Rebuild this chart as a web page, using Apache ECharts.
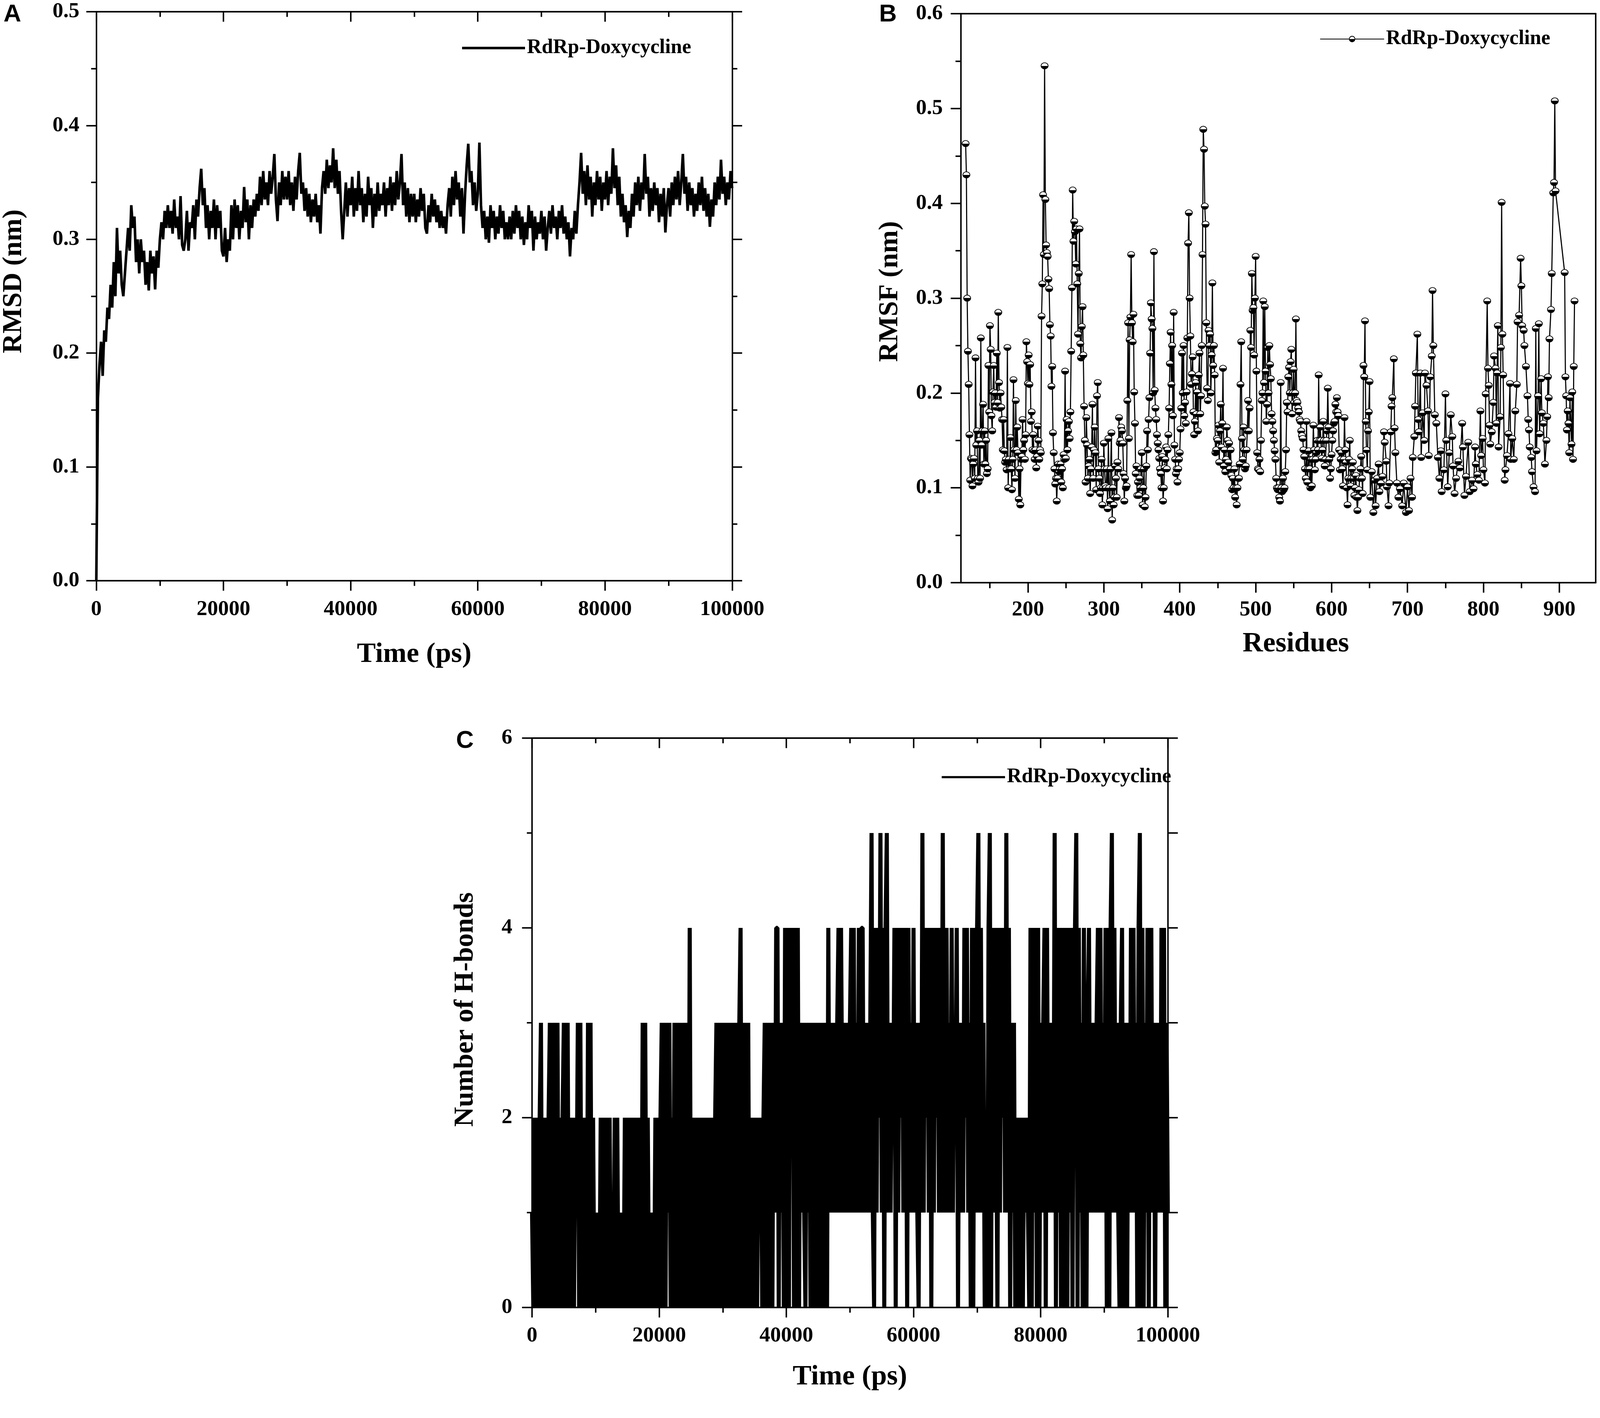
<!DOCTYPE html>
<html>
<head>
<meta charset="utf-8">
<title>RdRp-Doxycycline MD analysis</title>
<script src="https://cdn.jsdelivr.net/npm/echarts/dist/echarts.min.js"></script>
<style>
html, body { margin: 0; padding: 0; background: #fff; overflow: hidden; }
#chart { width: 100vw; height: 100vh; }
</style>
</head>
<body>
<div id="chart"></div>
<script>
var legendLabel = 'RdRp-Doxycycline';

// (A) RMSD in nm, one frame every 250 ps from 0 to 100000 ps
var rmsdStep = 250;
var rmsd = [
    0.00, 0.16, 0.19, 0.21, 0.18, 0.22, 0.21, 0.24, 0.23, 0.26, 0.24, 0.28, 0.25, 0.31, 0.27, 0.29, 0.26, 0.25, 0.27, 0.29,
    0.31, 0.29, 0.33, 0.31, 0.32, 0.28, 0.30, 0.27, 0.30, 0.28, 0.29, 0.26, 0.28, 0.255, 0.29, 0.27, 0.285, 0.256, 0.29, 0.275,
    0.30, 0.315, 0.30, 0.325, 0.31, 0.33, 0.31, 0.325, 0.305, 0.335, 0.31, 0.32, 0.30, 0.338, 0.295, 0.29, 0.30, 0.325, 0.29, 0.315,
    0.31, 0.33, 0.30, 0.335, 0.32, 0.345, 0.362, 0.33, 0.345, 0.31, 0.33, 0.30, 0.325, 0.31, 0.335, 0.30, 0.33, 0.31, 0.325, 0.29,
    0.285, 0.31, 0.28, 0.30, 0.29, 0.33, 0.30, 0.335, 0.31, 0.33, 0.30, 0.325, 0.31, 0.346, 0.315, 0.335, 0.30, 0.33, 0.31, 0.335,
    0.32, 0.34, 0.325, 0.355, 0.33, 0.36, 0.335, 0.35, 0.33, 0.36, 0.34, 0.355, 0.375, 0.335, 0.316, 0.35, 0.33, 0.36, 0.335, 0.355,
    0.335, 0.36, 0.33, 0.35, 0.325, 0.355, 0.335, 0.36, 0.376, 0.34, 0.35, 0.325, 0.345, 0.32, 0.34, 0.315, 0.335, 0.32, 0.34, 0.315,
    0.33, 0.305, 0.345, 0.36, 0.34, 0.37, 0.345, 0.365, 0.35, 0.38, 0.345, 0.37, 0.34, 0.36, 0.325, 0.30, 0.325, 0.35, 0.32, 0.345,
    0.33, 0.355, 0.32, 0.345, 0.325, 0.36, 0.33, 0.345, 0.315, 0.34, 0.32, 0.355, 0.33, 0.345, 0.31, 0.34, 0.32, 0.35, 0.325, 0.34,
    0.33, 0.35, 0.32, 0.345, 0.33, 0.355, 0.325, 0.35, 0.33, 0.36, 0.335, 0.35, 0.375, 0.33, 0.35, 0.32, 0.345, 0.315, 0.34, 0.32,
    0.34, 0.315, 0.335, 0.32, 0.345, 0.325, 0.34, 0.31, 0.305, 0.33, 0.315, 0.34, 0.32, 0.335, 0.315, 0.33, 0.31, 0.325, 0.31, 0.32,
    0.305, 0.33, 0.345, 0.32, 0.355, 0.33, 0.36, 0.335, 0.35, 0.32, 0.345, 0.305, 0.34, 0.365, 0.384, 0.35, 0.36, 0.33, 0.35, 0.325,
    0.34, 0.385, 0.33, 0.31, 0.325, 0.30, 0.32, 0.297, 0.33, 0.31, 0.325, 0.30, 0.32, 0.305, 0.33, 0.31, 0.325, 0.30, 0.315, 0.30,
    0.32, 0.30, 0.325, 0.305, 0.33, 0.31, 0.325, 0.30, 0.32, 0.295, 0.315, 0.30, 0.33, 0.31, 0.325, 0.29, 0.32, 0.30, 0.315, 0.305,
    0.325, 0.30, 0.32, 0.29, 0.31, 0.325, 0.305, 0.33, 0.31, 0.32, 0.30, 0.325, 0.31, 0.33, 0.305, 0.32, 0.30, 0.315, 0.285, 0.31,
    0.30, 0.325, 0.305, 0.33, 0.35, 0.376, 0.34, 0.36, 0.33, 0.365, 0.335, 0.355, 0.32, 0.35, 0.33, 0.36, 0.335, 0.355, 0.325, 0.35,
    0.335, 0.36, 0.33, 0.355, 0.34, 0.38, 0.345, 0.365, 0.33, 0.355, 0.32, 0.34, 0.315, 0.33, 0.302, 0.325, 0.31, 0.34, 0.32, 0.35,
    0.33, 0.355, 0.325, 0.35, 0.335, 0.375, 0.34, 0.355, 0.32, 0.345, 0.325, 0.35, 0.33, 0.345, 0.315, 0.34, 0.32, 0.345, 0.306, 0.33,
    0.345, 0.32, 0.35, 0.33, 0.355, 0.335, 0.36, 0.33, 0.35, 0.375, 0.34, 0.355, 0.325, 0.35, 0.33, 0.345, 0.32, 0.34, 0.325, 0.35,
    0.33, 0.355, 0.325, 0.345, 0.32, 0.34, 0.311, 0.335, 0.32, 0.35, 0.33, 0.355, 0.335, 0.37, 0.34, 0.355, 0.33, 0.35, 0.335, 0.36,
    0.345
];

// (B) RMSF per residue, nm
var residues = [
    118, 119, 120, 121, 122, 123, 124, 125, 126, 127, 128, 129, 130, 131, 132, 133, 134, 135, 136, 137,
    138, 139, 140, 141, 142, 143, 144, 145, 146, 147, 148, 149, 150, 151, 152, 153, 154, 155, 156, 157,
    158, 159, 160, 161, 162, 163, 164, 165, 166, 167, 168, 169, 170, 171, 172, 173, 174, 175, 176, 177,
    178, 179, 180, 181, 182, 183, 184, 185, 186, 187, 188, 189, 190, 191, 192, 193, 194, 195, 196, 197,
    198, 199, 200, 201, 202, 203, 204, 205, 206, 207, 208, 209, 210, 211, 212, 213, 214, 215, 216, 217,
    218, 219, 220, 221, 222, 223, 224, 225, 226, 227, 228, 229, 230, 231, 232, 233, 234, 235, 236, 237,
    238, 239, 240, 241, 242, 243, 244, 245, 246, 247, 248, 249, 250, 251, 252, 253, 254, 255, 256, 257,
    258, 259, 260, 261, 262, 263, 264, 265, 266, 267, 268, 269, 270, 271, 272, 273, 274, 275, 276, 277,
    278, 279, 280, 281, 282, 283, 284, 285, 286, 287, 288, 289, 290, 291, 292, 293, 294, 295, 296, 297,
    298, 299, 300, 301, 302, 303, 304, 305, 306, 307, 308, 309, 310, 311, 312, 313, 314, 315, 316, 317,
    318, 319, 320, 321, 322, 323, 324, 325, 326, 327, 328, 329, 330, 331, 332, 333, 334, 335, 336, 337,
    338, 339, 340, 341, 342, 343, 344, 345, 346, 347, 348, 349, 350, 351, 352, 353, 354, 355, 356, 357,
    358, 359, 360, 361, 362, 363, 364, 365, 366, 367, 368, 369, 370, 371, 372, 373, 374, 375, 376, 377,
    378, 379, 380, 381, 382, 383, 384, 385, 386, 387, 388, 389, 390, 391, 392, 393, 394, 395, 396, 397,
    398, 399, 400, 401, 402, 403, 404, 405, 406, 407, 408, 409, 410, 411, 412, 413, 414, 415, 416, 417,
    418, 419, 420, 421, 422, 423, 424, 425, 426, 427, 428, 429, 430, 431, 432, 433, 434, 435, 436, 437,
    438, 439, 440, 441, 442, 443, 444, 445, 446, 447, 448, 449, 450, 451, 452, 453, 454, 455, 456, 457,
    458, 459, 460, 461, 462, 463, 464, 465, 466, 467, 468, 469, 470, 471, 472, 473, 474, 475, 476, 477,
    478, 479, 480, 481, 482, 483, 484, 485, 486, 487, 488, 489, 490, 491, 492, 493, 494, 495, 496, 497,
    498, 499, 500, 501, 502, 503, 504, 505, 506, 507, 508, 509, 510, 511, 512, 513, 514, 515, 516, 517,
    518, 519, 520, 521, 522, 523, 524, 525, 526, 527, 528, 529, 530, 531, 532, 533, 534, 535, 536, 537,
    538, 539, 540, 541, 542, 543, 544, 545, 546, 547, 548, 549, 550, 551, 552, 553, 554, 555, 556, 557,
    558, 559, 560, 561, 562, 563, 564, 565, 566, 567, 568, 569, 570, 571, 572, 573, 574, 575, 576, 577,
    578, 579, 580, 581, 582, 583, 584, 585, 586, 587, 588, 589, 590, 591, 592, 593, 594, 595, 596, 597,
    598, 599, 600, 601, 602, 603, 604, 605, 606, 607, 608, 609, 610, 611, 612, 613, 614, 615, 616, 617,
    618, 619, 620, 621, 622, 623, 624, 625, 626, 627, 628, 629, 630, 631, 632, 633, 634, 635, 636, 637,
    638, 639, 640, 641, 642, 643, 644, 645, 646, 647, 648, 649, 650, 651,
    653, 655, 657, 658, 660, 662, 663, 665, 667, 669, 670, 672, 673, 675, 676, 678, 679, 680, 682, 683,
    684, 686, 688, 690, 693, 695, 698, 700, 702, 704, 706, 707, 709, 710, 711, 713, 714, 715, 717, 718,
    720, 722, 723, 725, 727, 728, 730, 732, 733, 734, 736, 738, 740, 742, 744, 745, 748, 750, 751, 753,
    755, 757, 759, 760, 762, 764, 767, 769, 772, 773, 775, 777, 780, 782, 785, 787, 789, 790, 792, 794,
    796, 797, 799, 800, 802, 803, 805, 806, 807, 808, 809, 811, 813, 814, 816, 817, 818, 819, 820, 822,
    823, 824, 825, 826, 828, 829, 831, 833, 835, 836, 838, 840, 842, 844, 845, 847, 849, 850, 851, 853,
    854, 856, 858, 859, 860, 861, 863, 864, 866, 868, 869, 870, 872, 873, 874, 876, 877, 879, 881, 883,
    884, 885, 886, 887, 889, 890, 892, 893, 894, 895, 907, 908, 909, 910, 911, 912, 913, 914, 916, 917,
    918, 919, 920
];
var rmsf = [
    .463, .430, .300, .244, .209, .156, .108, .131, .130, .102, .125, .131, .110, .237, .145, .160, .110, .106, .150, .110,
    .258, .145, .160, .188, .125, .160, .125, .150, .115, .120, .229, .180, .271, .246, .176, .160, .201, .229, .190, .200,
    .185, .242, .190, .285, .211, .184, .200, .185, .172, .140, .172, .139, .127, .130, .119, .248, .100, .130, .120, .153,
    .120, .098, .130, .214, .140, .110, .192, .140, .164, .137, .088, .120, .082, .130, .133, .172, .140, .150, .130, .156,
    .254, .233, .210, .240, .209, .230, .170, .180, .140, .156, .139, .130, .140, .121, .133, .165, .150, .130, .140, .137,
    .281, .315, .409, .346, .545, .404, .356, .348, .344, .320, .310, .272, .260, .207, .228, .158, .137, .120, .104, .110,
    .086, .110, .125, .117, .120, .125, .106, .120, .100, .135, .130, .223, .131, .172, .140, .160, .170, .152, .180, .244,
    .311, .414, .360, .381, .370, .336, .373, .315, .262, .326, .373, .252, .237, .270, .291, .240, .186, .150, .106, .174,
    .145, .110, .123, .130, .094, .120, .143, .188, .110, .140, .164, .137, .098, .197, .211, .120, .110, .094, .100, .130,
    .082, .100, .147, .120, .102, .100, .120, .078, .152, .100, .086, .120, .158, .066, .100, .082, .090, .123, .110, .090,
    .127, .120, .174, .147, .150, .164, .160, .147, .115, .086, .110, .100, .102, .192, .274, .152, .256, .280, .346, .274,
    .254, .283, .201, .168, .115, .123, .092, .106, .092, .110, .100, .120, .137, .082, .100, .120, .080, .090, .123, .160,
    .140, .172, .195, .242, .295, .278, .268, .200, .349, .203, .184, .172, .156, .147, .140, .131, .120, .115, .100, .133,
    .086, .100, .121, .130, .143, .120, .140, .156, .184, .231, .264, .209, .250, .176, .285, .145, .130, .115, .120, .106,
    .120, .130, .137, .162, .184, .242, .200, .250, .176, .190, .168, .201, .258, .358, .390, .300, .260, .209, .220, .238,
    .180, .156, .170, .211, .178, .201, .160, .219, .242, .178, .197, .250, .346, .478, .457, .397, .378, .274, .205, .192,
    .266, .250, .262, .200, .240, .316, .229, .250, .219, .137, .140, .152, .150, .166, .127, .160, .188, .143, .168, .226,
    .123, .140, .117, .130, .164, .150, .127, .147, .120, .140, .113, .098, .110, .100, .120, .090, .100, .082, .100, .110,
    .110, .125, .209, .254, .152, .130, .164, .140, .120, .123, .140, .160, .192, .160, .184, .266, .248, .326, .287, .290,
    .240, .300, .344, .223, .137, .120, .119, .130, .117, .150, .192, .200, .297, .211, .291, .223, .170, .188, .248, .200,
    .250, .230, .215, .178, .170, .160, .150, .139, .130, .110, .100, .098, .100, .090, .086, .211, .100, .096, .110, .098,
    .100, .117, .140, .190, .180, .217, .227, .200, .233, .246, .178, .200, .225, .190, .200, .278, .192, .190, .184, .180,
    .172, .170, .160, .155, .152, .140, .133, .120, .110, .170, .106, .120, .139, .120, .100, .130, .102, .130, .166, .140,
    .119, .130, .137, .150, .140, .219, .150, .164, .150, .131, .140, .170, .150, .123, .130, .150, .160, .205, .164, .130,
    .110, .120, .135, .150, .160, .168, .170, .188, .180, .195, .180, .176, .140, .119, .130, .137, .120, .102, .130, .174,
    .140, .127, .100, .082, .110, .130, .150, .102, .110, .120, .127, .110, .092, .100, .113, .090, .076, .090, .098, .110,
    .120, .133, .110, .094, .229, .217, .276, .170, .140, .119, .160, .180, .212, .090,
    .117, .074, .108, .081, .110, .125, .096, .105, .112, .159, .148, .128, .101, .081, .105, .159, .186, .195, .236, .163,
    .137, .105, .090, .099, .081, .105, .074, .101, .076, .110, .090, .132, .154, .186, .221, .262, .172, .159, .221, .132,
    .179, .150, .221, .208, .181, .134, .217, .239, .308, .250, .177, .168, .132, .110, .139, .096, .119, .199, .150, .101,
    .137, .177, .154, .123, .094, .110, .128, .121, .168, .143, .092, .112, .148, .096, .108, .099, .143, .125, .114, .108,
    .181, .134, .152, .119, .105, .199, .297, .226, .208, .166, .146, .159, .190, .239, .226, .168, .221, .271, .143, .175,
    .248, .401, .262, .219, .108, .119, .134, .157, .210, .130, .152, .130, .181, .209, .275, .282, .342, .313, .271, .266,
    .250, .228, .197, .172, .161, .143, .132, .117, .101, .096, .268, .139, .197, .273, .157, .215, .179, .168, .125, .150,
    .175, .217, .195, .257, .288, .326, .411, .422, .508, .413, .327, .217, .197, .161, .181, .168, .137, .195, .146, .201,
    .130, .228, .297
];

// (C) number of H-bonds, one frame every 200 ps from 0 to 100000 ps
var hbondStep = 200;
var hbonds = [
    1,0,2,0,2,0,2,3,0,2,0,2,0,2,3,0,3,0,3,0,3,0,2,0,2,
    3,0,2,3,0,2,0,2,0,2,1,3,0,3,0,2,0,2,0,3,0,3,0,2,0,
    1,0,1,0,2,0,2,0,2,1,0,2,0,1,0,2,0,2,0,1,0,1,0,2,0,
    2,0,2,0,2,0,2,0,2,0,2,0,3,0,3,0,2,0,1,0,1,0,2,0,2,
    0,2,3,0,3,0,3,1,3,0,2,0,3,0,3,0,3,0,3,0,3,0,3,0,4,
    0,2,0,2,0,2,0,2,0,2,0,2,0,2,0,2,0,2,0,2,3,0,3,0,2,
    3,0,2,3,0,3,0,3,0,3,0,3,0,3,4,0,3,0,3,0,3,0,2,0,2,
    0,2,0,2,1,2,0,2,3,0,2,3,0,3,0,3,1,4,4,0,3,1,3,0,4,
    0,4,0,4,2,4,0,4,0,4,0,3,1,3,1,0,3,1,3,0,3,0,3,0,2,
    3,0,3,0,3,0,3,0,4,1,3,1,3,2,1,3,4,1,4,2,1,3,1,3,1,
    3,4,1,4,1,3,1,4,1,4,4,1,3,1,3,1,3,5,1,0,4,1,4,2,5,
    1,4,0,4,5,1,3,1,3,2,4,0,4,1,4,2,4,1,4,3,0,4,1,3,1,
    4,1,3,1,0,3,1,5,1,4,2,4,1,4,0,4,1,4,2,4,1,4,1,5,1,
    3,4,1,3,1,4,1,3,2,4,0,3,1,3,1,4,2,4,1,3,0,4,0,4,1,
    4,5,1,4,1,3,0,2,0,4,5,0,4,1,4,2,0,4,1,4,2,4,1,5,1,
    4,0,3,1,3,0,2,0,2,0,2,0,2,1,2,1,0,4,0,4,1,4,0,4,0,
    3,1,3,4,0,4,1,3,1,3,1,5,0,4,1,4,0,3,4,0,4,0,4,1,4,
    0,3,4,5,0,4,1,3,0,4,1,0,3,4,1,3,1,3,1,3,4,1,4,1,3,
    1,4,0,4,0,4,5,1,4,1,3,1,0,3,4,0,3,1,0,3,1,4,1,4,1,
    3,0,4,5,0,4,0,3,1,4,0,3,4,1,3,0,3,1,3,1,4,1,4,0,3,1
];

// tick positions for the residue axis
var residueTicks = [200, 300, 400, 500, 600, 700, 800, 900];
var residueMinorTicks = [150, 250, 350, 450, 550, 650, 750, 850];

var serif = 'Liberation Serif';
var black = '#000';

// the figure is laid out on a 4550 x 3631 page and scaled to the real viewport
var sx = 1, sy = 1, sf = 1;
function px(v) { return v * sx; }
function py(v) { return v * sy; }
function pf(v) { return v * sf; }

function tickLabel(margin, formatter) {
    return {
        margin: margin,
        fontFamily: serif,
        fontWeight: 'bold',
        fontSize: pf(58),
        color: black,
        formatter: formatter
    };
}

function nameStyle(size, shift) {
    return {
        fontFamily: serif,
        fontWeight: 'bold',
        fontSize: pf(size),
        color: black,
        padding: [0, 0, 0, shift || 0]
    };
}

function frame(extra) {
    var line = { color: black, width: pf(4) };
    var base = {
        type: 'value',
        axisLine: { show: true, onZero: false, lineStyle: line },
        axisTick: { show: true, length: pf(27), lineStyle: line },
        splitLine: { show: false },
        axisLabel: { show: false }
    };
    for (var k in extra) base[k] = extra[k];
    return base;
}

function minorTicks() {
    return { show: true, splitNumber: 2, length: pf(14), lineStyle: { color: black, width: pf(4) } };
}

function innerTicks() {
    return { show: true, inside: true, length: pf(27), lineStyle: { color: black, width: pf(4) } };
}

function legendFor(series, icon, left, top, width, height) {
    var item = { name: series };
    if (icon) item.icon = icon;
    return {
        data: [item],
        left: px(left),
        top: py(top),
        padding: 0,
        itemWidth: px(width),
        itemHeight: pf(height),
        selectedMode: false,
        formatter: function () { return legendLabel; },
        textStyle: { fontFamily: serif, fontWeight: 'bold', fontSize: pf(55), color: black }
    };
}

function panelLetter(text, left, top) {
    return {
        text: text,
        left: px(left),
        top: py(top),
        padding: 0,
        textStyle: { fontFamily: 'Liberation Sans', fontWeight: 'bold', fontSize: pf(66), color: black }
    };
}

function buildOption() {
    var rmsdData = rmsd.map(function (v, i) { return [i * rmsdStep, v]; });
    var rmsfData = residues.map(function (r, i) { return [r, rmsf[i]]; });
    var hbondData = hbonds.map(function (v, i) { return [i * hbondStep, v]; });

    var halfFilled = new echarts.graphic.LinearGradient(0, 0, 0, 1, [
        { offset: 0, color: '#fff' },
        { offset: 0.5, color: '#fff' },
        { offset: 0.5, color: '#000' },
        { offset: 1, color: '#000' }
    ]);

    return {
        animation: false,
        backgroundColor: '#fff',
        title: [
            panelLetter('A', 10, 6),
            panelLetter('B', 2500, 6),
            panelLetter('C', 1297, 1866)
        ],
        legend: [
            legendFor('rmsd', 'rect', 1314, 97, 179, 7),
            legendFor('rmsf', null, 3753, 74, 182, 19),
            legendFor('hbond', 'rect', 2678, 1964, 180, 6)
        ],
        grid: [
            { left: px(272), top: py(30), width: px(1810), height: py(1457) },
            { left: px(2732), top: py(35), width: px(1806), height: py(1457) },
            { left: px(1513), top: py(1890), width: px(1808), height: py(1458) }
        ],
        xAxis: [
            // A
            frame({
                gridIndex: 0, position: 'bottom', min: 0, max: 100000, interval: 20000,
                minorTick: minorTicks(),
                axisLabel: tickLabel(py(46), function (v) { return String(v); }),
                name: 'Time (ps)', nameLocation: 'middle', nameGap: py(153), nameTextStyle: nameStyle(76)
            }),
            frame({
                gridIndex: 0, position: 'top', min: 0, max: 100000, interval: 20000,
                axisTick: innerTicks(),
                minorTick: minorTicks()
            }),
            // B
            frame({
                gridIndex: 1, position: 'bottom', min: 111.5, max: 948,
                axisTick: { show: true, length: pf(27), lineStyle: { color: black, width: pf(4) }, customValues: residueTicks },
                axisLabel: {
                    show: true, customValues: residueTicks, margin: py(42),
                    fontFamily: serif, fontWeight: 'bold', fontSize: pf(58), color: black
                },
                name: 'Residues', nameLocation: 'middle', nameGap: py(121), nameTextStyle: nameStyle(76, px(100))
            }),
            frame({
                gridIndex: 1, position: 'bottom', min: 111.5, max: 948,
                axisLine: { show: false },
                axisTick: { show: true, length: pf(15), lineStyle: { color: black, width: pf(4) }, customValues: residueMinorTicks }
            }),
            frame({
                gridIndex: 1, position: 'top', min: 111.5, max: 948,
                axisTick: { show: false }
            }),
            // C
            frame({
                gridIndex: 2, position: 'bottom', min: 0, max: 100000, interval: 20000,
                minorTick: minorTicks(),
                axisLabel: tickLabel(py(45), function (v) { return String(v); }),
                name: 'Time (ps)', nameLocation: 'middle', nameGap: py(142), nameTextStyle: nameStyle(76)
            }),
            frame({
                gridIndex: 2, position: 'top', min: 0, max: 100000, interval: 20000,
                axisTick: innerTicks(),
                minorTick: minorTicks()
            })
        ],
        yAxis: [
            // A
            frame({
                gridIndex: 0, position: 'left', min: 0, max: 0.5, interval: 0.1,
                minorTick: minorTicks(),
                axisLabel: tickLabel(px(48), function (v) { return v.toFixed(1); }),
                name: 'RMSD (nm)', nameLocation: 'middle', nameGap: px(195), nameTextStyle: nameStyle(74, py(76))
            }),
            frame({
                gridIndex: 0, position: 'right', min: 0, max: 0.5, interval: 0.1,
                minorTick: minorTicks()
            }),
            // B
            frame({
                gridIndex: 1, position: 'left', min: 0, max: 0.6, interval: 0.1,
                minorTick: minorTicks(),
                axisLabel: tickLabel(px(51), function (v) { return v.toFixed(1); }),
                name: 'RMSF (nm)', nameLocation: 'middle', nameGap: px(162), nameTextStyle: nameStyle(74, py(34))
            }),
            frame({
                gridIndex: 1, position: 'right', min: 0, max: 0.6, interval: 0.1,
                axisTick: { show: false }
            }),
            // C
            frame({
                gridIndex: 2, position: 'left', min: 0, max: 6, interval: 2,
                minorTick: minorTicks(),
                axisLabel: tickLabel(px(56), function (v) { return String(v); }),
                name: 'Number of H-bonds', nameLocation: 'middle', nameGap: px(150), nameTextStyle: nameStyle(74, py(68))
            }),
            frame({
                gridIndex: 2, position: 'right', min: 0, max: 6, interval: 1
            })
        ],
        series: [
            {
                name: 'rmsd',
                type: 'line',
                xAxisIndex: 0,
                yAxisIndex: 0,
                data: rmsdData,
                symbol: 'none',
                showSymbol: false,
                lineStyle: { color: black, width: pf(7) },
                itemStyle: { color: black }
            },
            {
                name: 'rmsf',
                type: 'line',
                xAxisIndex: 2,
                yAxisIndex: 2,
                data: rmsfData,
                symbol: 'circle',
                symbolSize: [px(20), py(16)],
                showSymbol: true,
                lineStyle: { color: black, width: pf(3) },
                itemStyle: { color: halfFilled, borderColor: black, borderWidth: pf(2) }
            },
            {
                name: 'hbond',
                type: 'line',
                xAxisIndex: 5,
                yAxisIndex: 4,
                data: hbondData,
                symbol: 'none',
                showSymbol: false,
                lineStyle: { color: black, width: pf(11), join: 'bevel' },
                itemStyle: { color: black }
            }
        ]
    };
}

window.onload = function () {
    var el = document.getElementById('chart');
    sx = el.clientWidth / 4550;
    sy = el.clientHeight / 3631;
    sf = Math.sqrt(sx * sy);
    var chart = echarts.init(el);
    chart.setOption(buildOption());
};
</script>
</body>
</html>
